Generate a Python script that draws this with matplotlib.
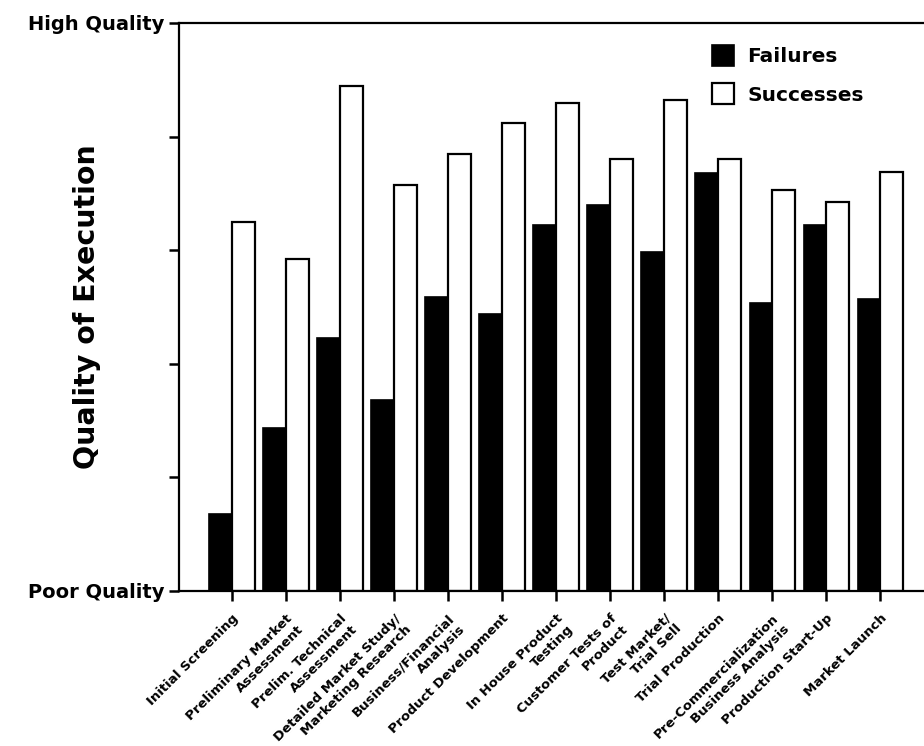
import matplotlib
matplotlib.use("Agg")
import matplotlib.pyplot as plt
import numpy as np

stages = [
    "Initial Screening",
    "Preliminary Market\nAssessment",
    "Prelim. Technical\nAssessment",
    "Detailed Market Study/\nMarketing Research",
    "Business/Financial\nAnalysis",
    "Product Development",
    "In House Product\nTesting",
    "Customer Tests of\nProduct",
    "Test Market/\nTrial Sell",
    "Trial Production",
    "Pre-Commercialization\nBusiness Analysis",
    "Production Start-Up",
    "Market Launch",
]
failures = [1.36, 2.87, 4.45, 3.36, 5.17, 4.88, 6.45, 6.80, 5.97, 7.36, 5.07, 6.45, 5.14]
successes = [6.49, 5.85, 8.89, 7.15, 7.69, 8.24, 8.59, 7.61, 8.64, 7.61, 7.06, 6.84, 7.38]
ytick_vals = [0, 2, 4, 6, 8, 10]
ytick_labels = ["Poor Quality", "", "", "", "", "High Quality"]

plt.rcParams['font.family'] = ['DejaVu Sans']

W, H = 924, 746
fig = plt.figure(figsize=(W / 100, H / 100), dpi=100)
ax = fig.add_axes([179 / W, 1 - 591 / H, 1 - 179 / W, (591 - 23) / H])

x = np.arange(len(stages))
bw = 0.42
ax.bar(x - bw / 2, failures, width=bw, color="black", edgecolor="black",
       linewidth=1.2, label="Failures")
ax.bar(x + bw / 2, successes, width=bw, color="white", edgecolor="black",
       linewidth=1.6, label="Successes")

ax.set_xlim(-0.98, 12.81)
ax.set_ylim(0, 10)

ax.set_yticks(ytick_vals)
ax.set_yticklabels(ytick_labels, fontsize=14, fontweight="bold")
ax.set_xticks(x)
ax.set_xticklabels(stages, rotation=45, ha="right", va="top",
                   rotation_mode="anchor", fontsize=9.5, fontweight="bold",
                   multialignment="right")
ax.tick_params(axis="both", direction="out", length=7, width=1.8, color="black")
ax.tick_params(axis="x", pad=8)

for s in ["left", "top", "bottom"]:
    ax.spines[s].set_linewidth(1.6)
ax.spines["right"].set_visible(False)

ax.text((87 - 179) / (W - 179), 0.5, "Quality of Execution", transform=ax.transAxes,
        rotation=90, ha="center", va="center", fontsize=20.5, fontweight="bold")

leg = fig.legend(loc="upper left", bbox_to_anchor=(712 / W, 1 - 45 / H),
                 frameon=False, borderpad=0, borderaxespad=0,
                 prop={"size": 14.5, "weight": "bold"},
                 handlelength=1.08, handleheight=1.22, handletextpad=0.68,
                 labelspacing=0.85)

fig.savefig("out.png", dpi=100)
